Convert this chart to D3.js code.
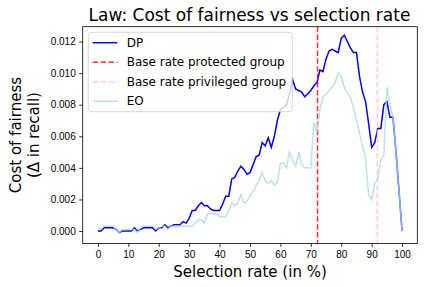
<!DOCTYPE html>
<html>
<head>
<meta charset="utf-8">
<script src="https://cdn.jsdelivr.net/npm/d3@7"></script>
<style>
  body { margin: 0; background: #fff; }
  svg { font-family: "DejaVu Sans", sans-serif; }
</style>
</head>
<body>
<div id="chart"></div>
<script>
// selection rate (in %) 0..100
const rates = d3.range(0, 101);

const dpValues = [
  0.0000, 0.0000, 0.0002, 0.0002, 0.0002, 0.0002, 0.0001, -0.0001, 0.0000, 0.0000,
  0.0000, 0.0000, 0.0002, 0.0000, 0.0001, 0.0002, 0.0002, 0.0002, 0.0002, 0.0000,
  0.0002, 0.0002, 0.0004, 0.0002, 0.0003, 0.0004, 0.0004, 0.0004, 0.0006, 0.0005,
  0.0008, 0.0013, 0.0013, 0.0016, 0.0018, 0.0016, 0.0016, 0.0014, 0.0013, 0.0013,
  0.0013, 0.0017, 0.0022, 0.0022, 0.0033, 0.0034, 0.0038, 0.0041, 0.0039, 0.0036,
  0.0037, 0.0042, 0.0047, 0.0048, 0.0056, 0.0054, 0.0059, 0.0053, 0.0060, 0.0070,
  0.0077, 0.0078, 0.0080, 0.0087, 0.0096, 0.0090, 0.0089, 0.0088, 0.0085, 0.0087,
  0.0089, 0.0092, 0.0094, 0.0102, 0.0101, 0.0109, 0.0114, 0.0115, 0.0114, 0.0113,
  0.0122, 0.0124, 0.0120, 0.0116, 0.0113, 0.0113, 0.0098, 0.0088, 0.0082, 0.0068,
  0.0053, 0.0056, 0.0065, 0.0065, 0.0080, 0.0082, 0.0072, 0.0072, 0.0050, 0.0025,
  0.0000
];

const eoValues = [
  0.0002, 0.0001, 0.0003, 0.0003, 0.0003, 0.0003, 0.0001, -0.0001, 0.0001, 0.0001,
  0.0001, 0.0001, 0.0001, -0.0001, 0.0002, 0.0003, 0.0003, 0.0003, 0.0003, 0.0001,
  0.0002, 0.0003, 0.0003, 0.0001, 0.0003, 0.0003, 0.0003, 0.0003, 0.0003, 0.0003,
  0.0003, 0.0003, 0.0005, 0.0007, 0.0007, 0.0005, 0.0011, 0.0011, 0.0011, 0.0011,
  0.0009, 0.0009, 0.0009, 0.0013, 0.0018, 0.0016, 0.0018, 0.0023, 0.0018, 0.0019,
  0.0022, 0.0025, 0.0029, 0.0032, 0.0037, 0.0032, 0.0030, 0.0032, 0.0029, 0.0031,
  0.0043, 0.0043, 0.0040, 0.0050, 0.0045, 0.0041, 0.0050, 0.0042, 0.0040, 0.0040,
  0.0040, 0.0069, 0.0063, 0.0077, 0.0085, 0.0087, 0.0089, 0.0091, 0.0094, 0.0100,
  0.0098, 0.0091, 0.0087, 0.0085, 0.0078, 0.0070, 0.0062, 0.0054, 0.0046, 0.0023,
  0.0020, 0.0030, 0.0033, 0.0045, 0.0048, 0.0091, 0.0080, 0.0072, 0.0050, 0.0025,
  0.0000
];

const baseRateProtected = 72.2;
const baseRatePrivileged = 91.9;

const xTicks = d3.range(0, 101, 10);
const yTicks = [0, 0.002, 0.004, 0.006, 0.008, 0.010, 0.012];

const legendItems = [
  { label: "DP", color: "#0000ff", dash: null, opacity: 1 },
  { label: "Base rate protected group", color: "#ff0000", dash: "5.5,2.4", opacity: 0.8 },
  { label: "Base rate privileged group", color: "#ffc0cb", dash: "5.5,2.4", opacity: 0.8 },
  { label: "EO", color: "#add8e6", dash: null, opacity: 0.8 }
];

const width = 424, height = 287;
const margin = { top: 26.7, right: 6.7, bottom: 43.5, left: 82.7 };
const w = width - margin.left - margin.right;
const h = height - margin.top - margin.bottom;

const svg = d3.select("#chart")
  .append("svg")
  .attr("width", width)
  .attr("height", height);

const g = svg.append("g")
  .attr("transform", `translate(${margin.left},${margin.top})`);

const x = d3.scaleLinear().domain([-5, 105]).range([0, w]);
const y = d3.scaleLinear().domain([-0.00079, 0.01294]).range([h, 0]);

// axes
const xAxis = g.append("g")
  .attr("transform", `translate(0,${h})`)
  .call(d3.axisBottom(x).tickValues(xTicks).tickSize(3.5).tickPadding(3.5));
const yAxis = g.append("g")
  .call(d3.axisLeft(y).tickValues(yTicks).tickFormat(d3.format(".3f")).tickSize(3.5).tickPadding(3.5));

[xAxis, yAxis].forEach(a => {
  a.select(".domain").remove();
  a.selectAll("line").attr("stroke", "#000").attr("stroke-width", 0.8);
  a.selectAll("text").style("font-size", "10px").attr("fill", "#000");
});

const line = d3.line()
  .x((d, i) => x(rates[i]))
  .y(d => y(d));

g.append("path")
  .datum(dpValues)
  .attr("fill", "none")
  .attr("stroke", "#0000ff")
  .attr("stroke-width", 1.5)
  .attr("d", line);

g.append("line")
  .attr("x1", x(baseRateProtected)).attr("x2", x(baseRateProtected))
  .attr("y1", 0).attr("y2", h)
  .attr("stroke", "#ff0000")
  .attr("stroke-opacity", 0.8)
  .attr("stroke-width", 1.5)
  .attr("stroke-dasharray", "5.5,2.4");

g.append("line")
  .attr("x1", x(baseRatePrivileged)).attr("x2", x(baseRatePrivileged))
  .attr("y1", 0).attr("y2", h)
  .attr("stroke", "#ffc0cb")
  .attr("stroke-opacity", 0.8)
  .attr("stroke-width", 1.5)
  .attr("stroke-dasharray", "5.5,2.4");

g.append("path")
  .datum(eoValues)
  .attr("fill", "none")
  .attr("stroke", "#add8e6")
  .attr("stroke-opacity", 0.8)
  .attr("stroke-width", 1.5)
  .attr("d", line);

// frame
g.append("rect")
  .attr("width", w).attr("height", h)
  .attr("fill", "none")
  .attr("stroke", "#000")
  .attr("stroke-width", 0.8);

// legend
const legend = svg.append("g").attr("transform", "translate(88.3,32.3)");
legend.append("rect")
  .attr("width", 204).attr("height", 79.4)
  .attr("rx", 3)
  .attr("fill", "#fff").attr("fill-opacity", 0.8)
  .attr("stroke", "#cccccc").attr("stroke-width", 0.8);

const items = legend.selectAll(".item")
  .data(legendItems)
  .enter()
  .append("g")
  .attr("transform", (d, i) => `translate(0,${10.4 + i * 19.5})`);

items.append("line")
  .attr("x1", 4.4).attr("x2", 29)
  .attr("stroke", d => d.color)
  .attr("stroke-opacity", d => d.opacity)
  .attr("stroke-width", 1.5)
  .attr("stroke-dasharray", d => d.dash);

items.append("text")
  .attr("x", 38.4)
  .attr("dy", "0.35em")
  .style("font-size", "12px")
  .text(d => d.label);

// titles
svg.append("text")
  .attr("x", 249.5).attr("y", 21)
  .attr("text-anchor", "middle")
  .style("font-size", "17px")
  .text("Law: Cost of fairness vs selection rate");

svg.append("text")
  .attr("x", margin.left + w / 2).attr("y", 277)
  .attr("text-anchor", "middle")
  .style("font-size", "15px")
  .text("Selection rate (in %)");

const yl = svg.append("text")
  .attr("transform", `translate(21,${margin.top + h / 2}) rotate(-90)`)
  .attr("text-anchor", "middle")
  .style("font-size", "15px");
yl.append("tspan").attr("x", 0).attr("dy", 0).text("Cost of fairness");
yl.append("tspan").attr("x", 0).attr("dy", "1.2em").text("(Δ in recall)");
</script>
</body>
</html>
